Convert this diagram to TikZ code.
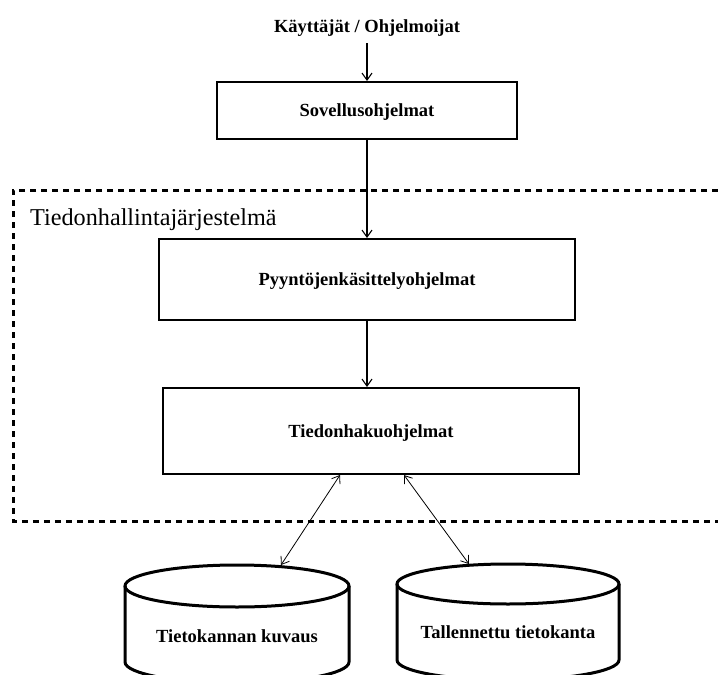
\documentclass[tikz,border=0pt]{standalone}
\usepackage{fontspec}
\setmainfont{Liberation Serif}
\usetikzlibrary{arrows.meta}
\begin{document}
\begin{tikzpicture}[x=1pt,y=-1pt,
 boldlabel/.style={font=\fontsize{18.5}{20}\selectfont\bfseries},
 box/.style={draw, line width=2pt, boldlabel, text height=12pt, text depth=0pt, inner sep=0pt},
 arr/.style={-{Straight Barb[length=7pt,width=10pt]}, line width=1.1pt},
 darr/.style={{Straight Barb[length=7pt,width=10pt]}-{Straight Barb[length=7pt,width=10pt]}, line width=0.8pt},
 dashedframe/.style={line width=3pt, dash pattern=on 6pt off 5pt},
 db/.style={line width=3pt}]
\useasboundingbox (0,0) rectangle (718,675);
\clip (0,0) rectangle (718,675);

% system frame
\draw[dashedframe] (718,190) -- (13,190) -- (13,521) -- (718,521);
\node[anchor=base west, font=\fontsize{24.2}{26}\selectfont, inner sep=0pt] (sys) at (30,225) {Tiedonhallintajärjestelmä};

% boxes
\node[boldlabel, anchor=base, inner sep=0pt] (users) at (367,32) {Käyttäjät / Ohjelmoijat};
\node[box, minimum width=300pt, minimum height=57pt] (app) at (367,110.5) {Sovellusohjelmat};
\node[box, minimum width=416pt, minimum height=81pt] (req) at (367,279.5) {Pyyntöjenkäsittelyohjelmat};
\node[box, minimum width=416pt, minimum height=86pt] (ret) at (371,431) {Tiedonhakuohjelmat};

% databases
\draw[db] (237,586) ellipse [x radius=112, y radius=21];
\draw[db] (125,586) -- (125,662) arc[start angle=180, end angle=0, x radius=112, y radius=21] -- (349,586);
\node[boldlabel, anchor=base, inner sep=0pt] (dbdesc) at (237,642) {Tietokannan kuvaus};
\coordinate (dbA) at (281,565);

\draw[db] (508,584) ellipse [x radius=111, y radius=20];
\draw[db] (397,584) -- (397,660) arc[start angle=180, end angle=0, x radius=111, y radius=20] -- (619,584);
\node[boldlabel, anchor=base, inner sep=0pt] (dbdata) at (508,638) {Tallennettu tietokanta};
\coordinate (dbB) at (469,564);

% connectors
\draw[arr, shorten <=7pt] (users) -- (app);
\draw[arr] (app.south) -- (req.north);
\draw[arr] (req.south) -- (req.south |- ret.north);
\draw[darr] ([xshift=-31pt]ret.south) -- (dbA);
\draw[darr] ([xshift=33pt]ret.south) -- (dbB);
\end{tikzpicture}
\end{document}
